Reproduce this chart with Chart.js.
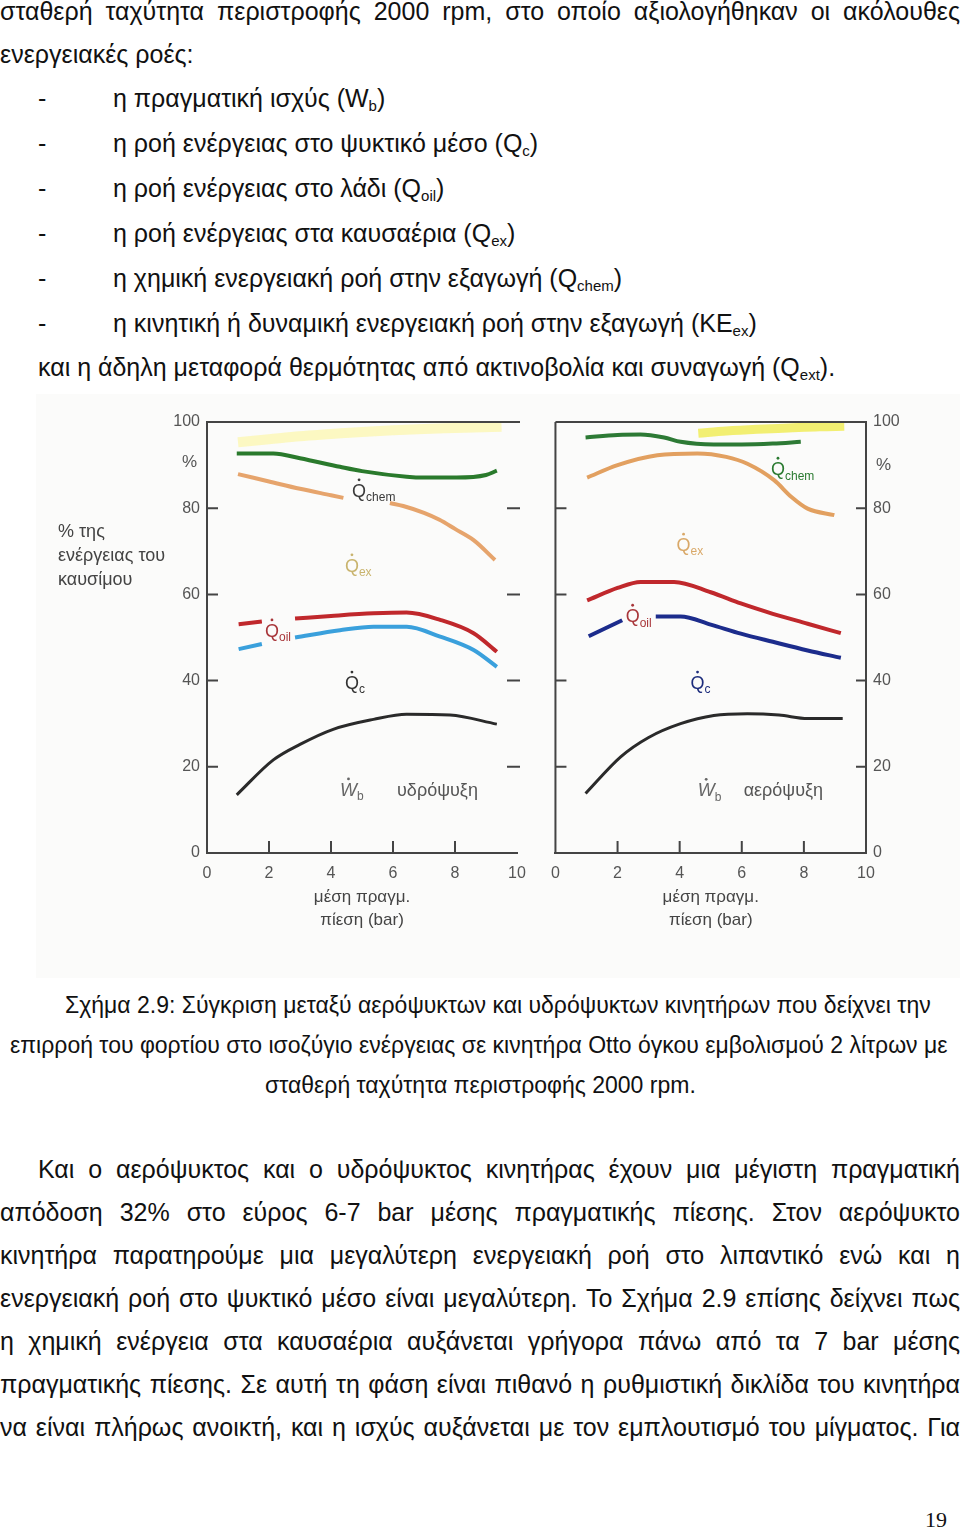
<!DOCTYPE html>
<html>
<head>
<meta charset="utf-8">
<script src="https://cdn.jsdelivr.net/npm/chart.js@4.4.0/dist/chart.umd.min.js"></script>
<style>
html, body { margin: 0; padding: 0; background: #fff; }
body { width: 960px; height: 1530px; position: relative; overflow: hidden; font-family: "Liberation Sans", Arial, sans-serif; color: #111; }
.ln { position: absolute; font-size: 25px; line-height: 28px; white-space: nowrap; transform-origin: 0 0; }
.cap { font-size: 23px; }
.j { text-align: justify; text-align-last: justify; }
sub { font-size: 15px; vertical-align: -4px; line-height: 0; }
.fig { position: absolute; left: 36px; top: 394px; width: 924px; height: 584px; background: #fbfbfa; }
canvas { position: absolute; }
.pg { position: absolute; left: 925px; top: 1507px; font: 22px "Liberation Serif", serif; }
</style>
</head>
<body>

<div class="ln j" data-w="960" style="top:-3px;left:0">σταθερή ταχύτητα περιστροφής 2000 rpm, στο οποίο αξιολογήθηκαν οι ακόλουθες</div>
<div class="ln" style="top:40px;left:0">ενεργειακές ροές:</div>
<div class="ln" style="top:84px;left:38px">-</div><div class="ln" style="top:84px;left:113px">η πραγματική ισχύς (W<sub>b</sub>)</div>
<div class="ln" style="top:129px;left:38px">-</div><div class="ln" style="top:129px;left:113px">η ροή ενέργειας στο ψυκτικό μέσο (Q<sub>c</sub>)</div>
<div class="ln" style="top:174px;left:38px">-</div><div class="ln" style="top:174px;left:113px">η ροή ενέργειας στο λάδι (Q<sub>oil</sub>)</div>
<div class="ln" style="top:219px;left:38px">-</div><div class="ln" style="top:219px;left:113px">η ροή ενέργειας στα καυσαέρια (Q<sub>ex</sub>)</div>
<div class="ln" style="top:264px;left:38px">-</div><div class="ln" style="top:264px;left:113px">η χημική ενεργειακή ροή στην εξαγωγή (Q<sub>chem</sub>)</div>
<div class="ln" style="top:309px;left:38px">-</div><div class="ln" style="top:309px;left:113px">η κινητική ή δυναμική ενεργειακή ροή στην εξαγωγή (KE<sub>ex</sub>)</div>
<div class="ln" style="top:353px;left:38px">και η άδηλη μεταφορά θερμότητας από ακτινοβολία και συναγωγή (Q<sub>ext</sub>).</div>

<div class="fig"></div>
<canvas id="chartLeft" width="500" height="560" style="left:40px;top:395px"></canvas>
<canvas id="chartRight" width="420" height="560" style="left:540px;top:395px"></canvas>

<div class="ln cap" style="top:991px;left:65px">Σχήμα 2.9: Σύγκριση μεταξύ αερόψυκτων και υδρόψυκτων κινητήρων που δείχνει την</div>
<div class="ln cap" style="top:1031px;left:10px">επιρροή του φορτίου στο ισοζύγιο ενέργειας σε κινητήρα Otto όγκου εμβολισμού 2 λίτρων με</div>
<div class="ln cap" style="top:1071px;left:265px">σταθερή ταχύτητα περιστροφής 2000 rpm.</div>

<div class="ln j" data-w="922" style="top:1155px;left:38px">Και ο αερόψυκτος και ο υδρόψυκτος κινητήρας έχουν μια μέγιστη πραγματική</div>
<div class="ln j" data-w="960" style="top:1198px;left:0">απόδοση 32% στο εύρος 6-7 bar μέσης πραγματικής πίεσης. Στον αερόψυκτο</div>
<div class="ln j" data-w="960" style="top:1241px;left:0">κινητήρα παρατηρούμε μια μεγαλύτερη ενεργειακή ροή στο λιπαντικό ενώ και η</div>
<div class="ln j" data-w="960" style="top:1284px;left:0">ενεργειακή ροή στο ψυκτικό μέσο είναι μεγαλύτερη. Το Σχήμα 2.9 επίσης δείχνει πως</div>
<div class="ln j" data-w="960" style="top:1327px;left:0">η χημική ενέργεια στα καυσαέρια αυξάνεται γρήγορα πάνω από τα 7 bar μέσης</div>
<div class="ln j" data-w="960" style="top:1370px;left:0">πραγματικής πίεσης. Σε αυτή τη φάση είναι πιθανό η ρυθμιστική δικλίδα του κινητήρα</div>
<div class="ln j" data-w="960" style="top:1413px;left:0">να είναι πλήρως ανοικτή, και η ισχύς αυξάνεται με τον εμπλουτισμό του μίγματος. Για</div>

<div class="pg">19</div>

<script>
// fit justified lines: stretch with justify, or squeeze if too long
document.querySelectorAll('.j').forEach(function(el) {
    var target = +el.dataset.w;
    var natural = el.scrollWidth;
    if (natural > target) {
        el.style.transform = 'scaleX(' + (target / natural) + ')';
    } else {
        el.style.whiteSpace = 'normal';
        el.style.width = target + 'px';
    }
});

// axis ticks
const xTicks = [0, 2, 4, 6, 8, 10];
const yTicks = [0, 20, 40, 60, 80, 100];
const innerYTicks = [20, 40, 60, 80];
const innerXTicks = [2, 4, 6, 8];

// left chart: υδρόψυξη (water cooled)
const wKeX = [1, 2, 3, 4, 5, 6, 7, 8, 9.5];
const wKeY = [95.3, 96, 96.7, 97.2, 97.7, 98.1, 98.4, 98.6, 98.9];
const wChemX = [0.96, 2.14, 3, 4.29, 5, 6.44, 7, 8.05, 9, 9.35];
const wChemY = [92.7, 92.7, 91.6, 89.6, 88.6, 87.3, 87.1, 87.1, 87.7, 88.7];
const wExX = [1, 2, 3, 4, 4.4, 5.1, 5.9, 6.33, 7, 7.5, 8, 8.6, 9.29];
const wExY = [87.9, 86.2, 84.5, 83, 82.4, null, 81.2, 80.5, 78.9, 77.3, 75.2, 72.6, 68];
const wOilX = [1.02, 1.77, 2.3, 2.84, 4, 5.37, 6.44, 7.52, 8.6, 9.35];
const wOilY = [53.1, 53.7, null, 54.4, 55, 55.6, 55.8, 54.1, 51, 46.7];
const wCoolX = [1.02, 1.77, 2.3, 2.84, 4.29, 5.37, 6.44, 7.52, 8.6, 9.35];
const wCoolY = [47.3, 48.5, null, 50, 51.7, 52.5, 52.5, 50.2, 47.1, 43.2];
const wPowX = [0.96, 2.14, 3, 4.07, 5.37, 6.44, 7.84, 9.35];
const wPowY = [13.5, 21.6, 25.2, 28.7, 31, 32.2, 32, 29.9];

// right chart: αερόψυξη (air cooled)
const aKeX = [4.6, 5.5, 6.5, 7.5, 8.5, 9.3];
const aKeY = [97.4, 97.9, 98.3, 98.6, 98.9, 99];
const aChemX = [0.97, 2, 2.74, 3.5, 4.03, 5.1, 6, 7, 7.9];
const aChemY = [96.4, 97, 97.1, 96.4, 95.4, 94.8, 94.8, 95, 95.4];
const aExX = [1.02, 2, 3.28, 4.57, 5.5, 6.18, 7.04, 7.6, 8.12, 8.98];
const aExY = [87.1, 90, 92.3, 92.7, 91.9, 90.3, 86.5, 82.6, 79.9, 78.4];
const aOilX = [1.02, 2, 2.74, 3.82, 5, 5.97, 7, 8.12, 9.19];
const aOilY = [58.6, 61.5, 62.9, 62.9, 60.5, 57.9, 55.5, 53.2, 51];
const aCoolX = [1.07, 2.15, 2.7, 3.23, 4.03, 5, 5.97, 7, 8.12, 9.19];
const aCoolY = [50.3, 54, null, 54.9, 54.9, 53, 50.9, 49, 47, 45.3];
const aPowX = [0.97, 2.1, 3, 4.03, 5.1, 6.18, 7.2, 8.12, 9.25];
const aPowY = [13.8, 22.3, 26.8, 30, 31.9, 32.3, 32, 31.2, 31.2];

// in-plot symbols
const noteMain = ['Q', 'Q', 'Q', 'Q', 'W'];
const noteSub = ['chem', 'ex', 'oil', 'c', 'b'];
const wNoteX = [4.68, 4.45, 1.87, 4.45, 4.29];
const wNoteY = [83.8, 66.4, 51.3, 39.2, 14.4];
const aNoteX = [6.94, 3.9, 2.26, 4.35, 4.58];
const aNoteY = [88.8, 71.2, 54.7, 39.2, 14.3];
const wNoteColor = ['#3a3a3a', '#c9b46e', '#a8363a', '#333333', '#666666'];
const aNoteColor = ['#2a7a30', '#d9a868', '#a8363a', '#1c2c7c', '#666666'];
const wModeText = 'υδρόψυξη';
const aModeText = 'αερόψυξη';
const xTitle = ['μέση πραγμ.', 'πίεση (bar)'];
const yTitle = ['% της', 'ενέργειας του', 'καυσίμου'];

const FONT = '"Liberation Sans", Arial, sans-serif';

function pts(xs, ys) {
    return xs.map(function(x, i) { return {x: x, y: ys[i]}; });
}

function line(xs, ys, color, width) {
    return {
        data: pts(xs, ys),
        borderColor: color,
        borderWidth: width,
        pointRadius: 0,
        fill: false,
        spanGaps: false,
        cubicInterpolationMode: 'monotone',
        borderCapStyle: 'butt'
    };
}

function drawNote(ctx, px, py, main, sub, color) {
    ctx.save();
    ctx.fillStyle = color;
    ctx.textAlign = 'left';
    ctx.textBaseline = 'middle';
    ctx.font = (main === 'W' ? 'italic ' : '') + '18px ' + FONT;
    ctx.fillText(main, px, py);
    var w = ctx.measureText(main).width;
    ctx.beginPath();
    ctx.arc(px + w / 2, py - 12, 1.4, 0, Math.PI * 2);
    ctx.fill();
    ctx.font = '12px ' + FONT;
    ctx.fillText(sub, px + w, py + 6);
    ctx.restore();
}

// frame, inward ticks, symbols and horizontal axis titles
const figurePlugin = {
    id: 'figure',
    afterDraw: function(chart, args, opts) {
        var ctx = chart.ctx, a = chart.chartArea;
        var xs = chart.scales.x, ys = chart.scales.y;
        ctx.save();
        ctx.strokeStyle = '#444';
        ctx.lineWidth = 2;
        ctx.beginPath();
        ctx.moveTo(a.left, a.top); ctx.lineTo(a.right + (opts.side === 'left' ? 3 : 0), a.top);
        if (opts.side === 'right') { ctx.moveTo(a.left, a.top); ctx.lineTo(a.left, a.bottom); }
        innerYTicks.forEach(function(v) {
            var py = ys.getPixelForValue(v);
            ctx.moveTo(a.left, py); ctx.lineTo(a.left + 11, py);
            ctx.moveTo(a.right + (opts.side === 'left' ? 3 : 0), py); ctx.lineTo(a.right - 10, py);
        });
        innerXTicks.forEach(function(v) {
            var px = xs.getPixelForValue(v);
            ctx.moveTo(px, a.bottom); ctx.lineTo(px, a.bottom - 12);
        });
        ctx.stroke();

        ctx.fillStyle = '#555';
        ctx.font = '17px ' + FONT;
        ctx.textBaseline = 'middle';
        ctx.textAlign = 'left';
        if (opts.side === 'left') {
            ctx.fillText('%', a.left - 25, ys.getPixelForValue(90.7));
            ctx.font = '18px ' + FONT;
            ctx.fillStyle = '#444';
            yTitle.forEach(function(t, i) {
                ctx.fillText(t, a.left - 149, ys.getPixelForValue(74.5) + i * 24);
            });
        } else {
            ctx.fillText('%', a.right + 10, ys.getPixelForValue(90));
        }
        ctx.restore();

        opts.noteX.forEach(function(x, i) {
            drawNote(ctx, xs.getPixelForValue(x), ys.getPixelForValue(opts.noteY[i]), noteMain[i], noteSub[i], opts.noteColor[i]);
        });
        ctx.save();
        ctx.fillStyle = '#555';
        ctx.font = '18px ' + FONT;
        ctx.textBaseline = 'middle';
        ctx.fillText(opts.modeText, xs.getPixelForValue(opts.modeX), ys.getPixelForValue(opts.noteY[4]));
        ctx.restore();
    }
};

function makeChart(id, datasets, side, padding, yWidth, notes) {
    return new Chart(document.getElementById(id), {
        type: 'line',
        data: { datasets: datasets },
        options: {
            responsive: false,
            animation: false,
            layout: { padding: padding },
            plugins: {
                legend: { display: false },
                tooltip: { enabled: false },
                figure: Object.assign({ side: side }, notes)
            },
            scales: {
                x: {
                    type: 'linear', min: 0, max: 10,
                    afterBuildTicks: function(s) { s.ticks = xTicks.map(function(v) { return {value: v}; }); },
                    afterFit: function(s) { s.height = 102; },
                    grid: { drawOnChartArea: false, drawTicks: false },
                    border: { display: true, color: '#444', width: 2 },
                    ticks: { color: '#555', font: { size: 16, family: FONT }, padding: 11, maxRotation: 0 },
                    title: { display: true, text: xTitle, color: '#444', font: { size: 17, family: FONT, lineHeight: 1.35 }, padding: { top: 2, bottom: 23 } }
                },
                y: {
                    type: 'linear', min: 0, max: 100, position: side,
                    afterBuildTicks: function(s) { s.ticks = yTicks.map(function(v) { return {value: v}; }); },
                    afterFit: function(s) { s.width = yWidth; },
                    grid: { drawOnChartArea: false, drawTicks: false },
                    border: { display: true, color: '#444', width: 2 },
                    ticks: { color: '#555', font: { size: 16, family: FONT }, padding: 7 }
                }
            }
        },
        plugins: [figurePlugin]
    });
}

makeChart('chartLeft', [
    line(wKeX, wKeY, 'rgba(252,246,170,0.7)', 10),
    line(wChemX, wChemY, '#2a7a2c', 4),
    line(wExX, wExY, '#e6a46c', 4),
    line(wOilX, wOilY, '#c0282c', 4),
    line(wCoolX, wCoolY, '#3aa0dc', 4),
    line(wPowX, wPowY, '#2a2a2a', 3)
], 'left', { top: 27, right: 23, left: 0, bottom: 0 }, 167,
   { noteX: wNoteX, noteY: wNoteY, noteColor: wNoteColor, modeText: wModeText, modeX: 6.13 });

makeChart('chartRight', [
    line(aKeX, aKeY, 'rgba(240,236,80,0.8)', 9),
    line(aChemX, aChemY, '#2d7a35', 4),
    line(aExX, aExY, '#e2a060', 4),
    line(aOilX, aOilY, '#c0282c', 4),
    line(aCoolX, aCoolY, '#1c2c8c', 4),
    line(aPowX, aPowY, '#2a2a2a', 3)
], 'right', { top: 27, right: 0, left: 15, bottom: 0 }, 94,
   { noteX: aNoteX, noteY: aNoteY, noteColor: aNoteColor, modeText: aModeText, modeX: 6.06 });
</script>
</body>
</html>
